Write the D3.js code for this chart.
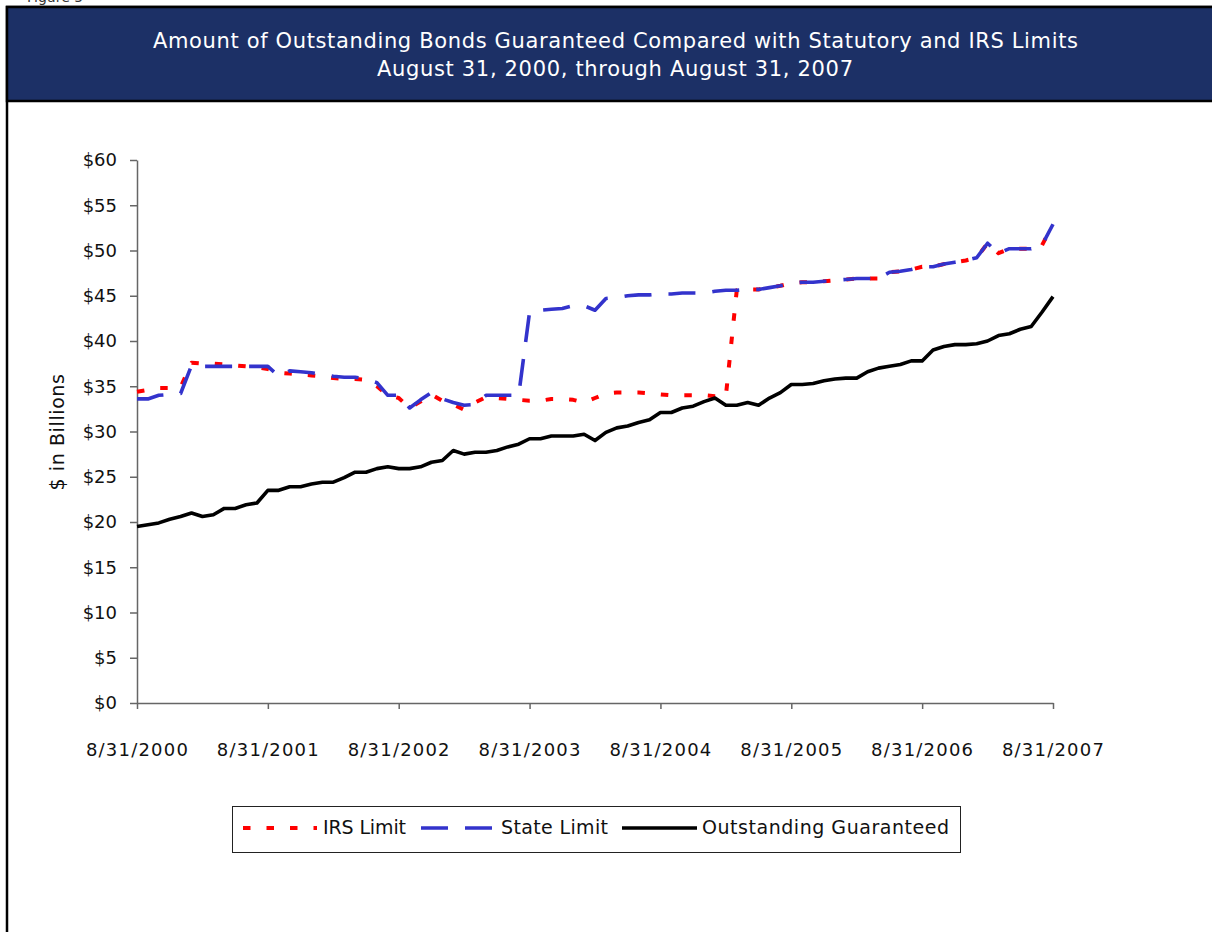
<!DOCTYPE html>
<html lang="en">
<head>
    <meta charset="UTF-8">
    <title>Outstanding Bonds Guaranteed</title>
    <script src="https://d3js.org/d3.v7.min.js"></script>
    <style>
        body { margin: 0; background: white; }
        text { font-family: "DejaVu Sans", Verdana, sans-serif; }
    </style>
</head>
<body>
    <svg id='svg'></svg>
    <script>
        // month index 0 = 8/31/2000 ... 84 = 8/31/2007
        const tickMonths = [0, 12, 24, 36, 48, 60, 72, 84];
        const tickLabels = ['8/31/2000', '8/31/2001', '8/31/2002', '8/31/2003',
                            '8/31/2004', '8/31/2005', '8/31/2006', '8/31/2007'];
        const yTicks = [0, 5, 10, 15, 20, 25, 30, 35, 40, 45, 50, 55, 60];

        const irsLimit = [
            34.4, 34.6, 34.8, 34.8, 34.9, 37.6, 37.5, 37.5, 37.4, 37.3, 37.2, 37.1,
            36.9, 36.5, 36.4, 36.3, 36.2, 36.1, 35.9, 35.8, 35.8, 35.7, 35.0, 34.0,
            33.7, 32.6, 33.3, 34.1, 33.4, 33.0, 32.4, 33.2, 33.8, 33.7, 33.6, 33.5,
            33.4, 33.4, 33.6, 33.6, 33.5, 33.2, 33.7, 34.2, 34.3, 34.3, 34.3, 34.2,
            34.1, 34.0, 34.0, 34.0, 34.0, 33.9, 33.9, 45.6, 45.7, 45.7, 45.9, 46.1,
            46.4, 46.5, 46.5, 46.6, 46.7, 46.8, 46.9, 46.9, 46.9, 47.6, 47.7, 47.9,
            48.2, 48.2, 48.5, 48.7, 48.9, 49.2, 50.8, 49.7, 50.2, 50.2, 50.2, 50.6, 52.9
        ];
        const stateLimit = [
            33.6, 33.6, 34.0, 34.1, 34.2, 37.3, 37.2, 37.2, 37.2, 37.2, 37.2, 37.2,
            37.2, 36.1, 36.7, 36.6, 36.5, 36.3, 36.1, 36.0, 36.0, 35.8, 35.4, 34.0,
            34.0, 32.6, 33.5, 34.3, 33.6, 33.2, 32.9, 33.0, 34.0, 34.0, 34.0, 34.0,
            43.2, 43.4, 43.5, 43.6, 43.9, 43.9, 43.4, 44.7, 44.8, 45.0, 45.1, 45.1,
            45.2, 45.2, 45.3, 45.3, 45.3, 45.5, 45.6, 45.6, 45.7, 45.7, 45.9, 46.1,
            46.4, 46.5, 46.5, 46.6, 46.7, 46.8, 46.9, 46.9, 46.9, 47.6, 47.7, 47.9,
            48.2, 48.2, 48.5, 48.7, 48.9, 49.2, 50.8, 49.7, 50.2, 50.2, 50.2, 50.6, 52.9
        ];
        const outstanding = [
            19.5, 19.7, 19.9, 20.3, 20.6, 21.0, 20.6, 20.8, 21.5, 21.5, 21.9, 22.1,
            23.5, 23.5, 23.9, 23.9, 24.2, 24.4, 24.4, 24.9, 25.5, 25.5, 25.9, 26.1,
            25.9, 25.9, 26.1, 26.6, 26.8, 27.9, 27.5, 27.7, 27.7, 27.9, 28.3, 28.6,
            29.2, 29.2, 29.5, 29.5, 29.5, 29.7, 29.0, 29.9, 30.4, 30.6, 31.0, 31.3,
            32.1, 32.1, 32.6, 32.8, 33.3, 33.7, 32.9, 32.9, 33.2, 32.9, 33.7, 34.3,
            35.2, 35.2, 35.3, 35.6, 35.8, 35.9, 35.9, 36.6, 37.0, 37.2, 37.4, 37.8,
            37.8, 39.0, 39.4, 39.6, 39.6, 39.7, 40.0, 40.6, 40.8, 41.3, 41.6, 43.2, 44.9
        ];

        const width = 1212;
        const height = 932;
        const svg = d3.select('#svg')
            .attr('width', width)
            .attr('height', height);

        // caption above the frame, cut off by the page edge as in the original
        svg.append('text')
            .attr('x', 27).attr('y', 2)
            .style('font-size', '14px')
            .attr('fill', '#333')
            .text('Figure 5');

        // frame + header band
        svg.append('rect')
            .attr('x', 7).attr('y', 7)
            .attr('width', 1240).attr('height', 960)
            .attr('fill', 'white')
            .attr('stroke', 'black')
            .attr('stroke-width', 2.5);
        svg.append('rect')
            .attr('x', 7).attr('y', 7)
            .attr('width', 1240).attr('height', 94)
            .attr('fill', '#1c3066')
            .attr('stroke', 'black')
            .attr('stroke-width', 2.5);

        svg.append('text')
            .attr('x', 615.5).attr('y', 48)
            .attr('text-anchor', 'middle')
            .attr('fill', 'white')
            .attr('textLength', 925)
            .attr('lengthAdjust', 'spacing')
            .style('font-size', '21px')
            .text('Amount of Outstanding Bonds Guaranteed Compared with Statutory and IRS Limits');
        svg.append('text')
            .attr('x', 615).attr('y', 76)
            .attr('text-anchor', 'middle')
            .attr('fill', 'white')
            .attr('textLength', 476)
            .attr('lengthAdjust', 'spacing')
            .style('font-size', '21px')
            .text('August 31, 2000, through August 31, 2007');

        const xScale = d3.scaleLinear()
            .domain([0, 84])
            .range([137, 1053]);
        const yScale = d3.scaleLinear()
            .domain([0, 60])
            .range([703, 160]);

        const yAxis = d3.axisLeft(yScale)
            .tickValues(yTicks)
            .tickFormat(d => '$' + d)
            .tickSize(7)
            .tickSizeOuter(0)
            .tickPadding(13);
        const gy = svg.append('g')
            .attr('transform', 'translate(137,0)')
            .call(yAxis);
        gy.selectAll('text').style('font-size', '18px').attr('fill', '#111');

        const xAxis = d3.axisBottom(xScale)
            .tickValues(tickMonths)
            .tickFormat((d, i) => tickLabels[i])
            .tickSize(6)
            .tickSizeOuter(0)
            .tickPadding(34);
        const gx = svg.append('g')
            .attr('transform', 'translate(0,703)')
            .call(xAxis);
        gx.selectAll('text')
            .style('font-size', '18px')
            .style('letter-spacing', '1.2px')
            .attr('fill', '#111');

        [gx, gy].forEach(g => {
            g.select('.domain').attr('stroke', '#666').attr('stroke-width', 1.5);
            g.selectAll('.tick line').attr('stroke', '#666').attr('stroke-width', 1.5);
        });

        svg.append('text')
            .attr('transform', 'translate(64,432) rotate(-90)')
            .attr('text-anchor', 'middle')
            .style('font-size', '19px')
            .style('letter-spacing', '0.6px')
            .attr('fill', '#111')
            .text('$ in Billions');

        const line = d3.line()
            .x((d, i) => xScale(i))
            .y(d => yScale(d));

        const series = [
            {name: 'IRS Limit', values: irsLimit, color: '#ff0000', w: 4, dash: '7.5,16'},
            {name: 'State Limit', values: stateLimit, color: '#3333cc', w: 3.6, dash: '27,17'},
            {name: 'Outstanding Guaranteed', values: outstanding, color: '#000000', w: 3.6, dash: null}
        ];

        series.forEach(s => {
            svg.append('path')
                .datum(s.values)
                .attr('fill', 'none')
                .attr('stroke', s.color)
                .attr('stroke-width', s.w)
                .attr('stroke-dasharray', s.dash)
                .attr('stroke-linejoin', 'round')
                .attr('d', line);
        });

        // legend
        const legend = svg.append('g');
        legend.append('rect')
            .attr('x', 232.5).attr('y', 806.5)
            .attr('width', 728).attr('height', 46)
            .attr('fill', 'white')
            .attr('stroke', '#222')
            .attr('stroke-width', 1);
        const legendItems = [
            {x1: 243, x2: 317, tx: 323, tw: 83},
            {x1: 421, x2: 493, tx: 501, tw: 107},
            {x1: 622, x2: 697, tx: 702, tw: 247}
        ];
        series.forEach((s, i) => {
            const it = legendItems[i];
            legend.append('line')
                .attr('x1', it.x1).attr('x2', it.x2)
                .attr('y1', 828).attr('y2', 828)
                .attr('stroke', s.color)
                .attr('stroke-width', s.w)
                .attr('stroke-dasharray', s.dash);
            legend.append('text')
                .attr('x', it.tx).attr('y', 834)
                .attr('textLength', it.tw)
                .attr('lengthAdjust', 'spacing')
                .style('font-size', '19px')
                .attr('fill', '#111')
                .text(s.name);
        });
    </script>
</body>
</html>
